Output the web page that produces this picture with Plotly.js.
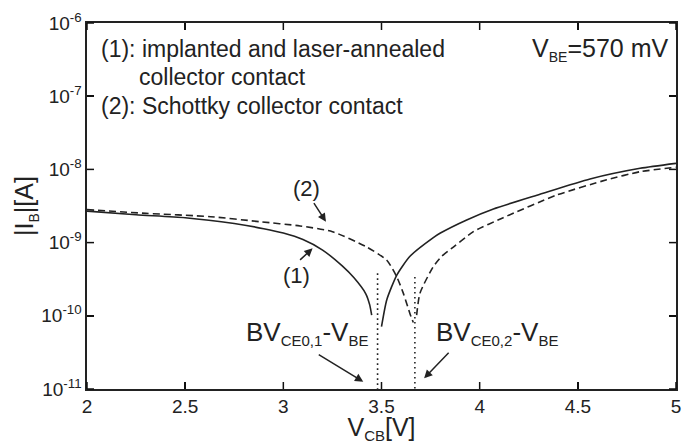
<!DOCTYPE html>
<html>
<head>
<meta charset="utf-8">
<script src="https://cdn.plot.ly/plotly-3.0.1.min.js"></script>
<style>html,body{margin:0;padding:0;background:#fff;}#chart{width:683px;height:444px;}</style>
</head>
<body>
<div id="chart"></div>
<script>
// Curve (1): implanted and laser-annealed collector contact (solid)
const v1Left = [2.0, 2.25, 2.5, 2.75, 2.9, 3.0, 3.1, 3.2, 3.3, 3.36, 3.42, 3.44, 3.45];
const i1Left = [2.69e-9, 2.40e-9, 2.19e-9, 1.82e-9, 1.55e-9, 1.35e-9, 1.10e-9, 7.9e-10, 4.8e-10, 3.3e-10, 2.0e-10, 1.41e-10, 1.02e-10];
const v1Right = [3.50, 3.527, 3.578, 3.645, 3.764, 3.80, 3.934, 4.07, 4.307, 4.562, 4.817, 5.0];
const i1Right = [7.1e-11, 1.66e-10, 3.6e-10, 6.5e-10, 1.17e-9, 1.35e-9, 2.04e-9, 2.88e-9, 4.57e-9, 7.4e-9, 1.035e-8, 1.21e-8];
// Curve (2): Schottky collector contact (dashed)
const v2Left = [2.0, 2.3, 2.63, 2.88, 3.085, 3.25, 3.425, 3.527, 3.578, 3.611, 3.645, 3.662];
const i2Left = [2.82e-9, 2.51e-9, 2.26e-9, 1.93e-9, 1.69e-9, 1.41e-9, 8.7e-10, 5.75e-10, 3.4e-10, 2.04e-10, 1.07e-10, 8.1e-11];
const v2Right = [3.679, 3.696, 3.764, 3.807, 3.866, 3.968, 4.12, 4.393, 4.647, 4.817, 5.0];
const i2Right = [1.02e-10, 2.04e-10, 4.7e-10, 6.5e-10, 8.7e-10, 1.41e-9, 2.19e-9, 4.47e-9, 7.2e-9, 9.3e-9, 1.07e-8];
// Breakdown markers (dotted verticals)
const bv1X = [3.48, 3.48];
const bv1Y = [3.8e-10, 1e-11];
const bv2X = [3.67, 3.67];
const bv2Y = [3.4e-10, 1e-11];
// Axis ticks
const xTicks = [2, 2.5, 3, 3.5, 4, 4.5, 5];
const xTickText = ['2', '2.5', '3', '3.5', '4', '4.5', '5'];
const yTicks = [1e-11, 1e-10, 1e-9, 1e-8, 1e-7, 1e-6];
const yTickText = ['10<sup>-11</sup>', '10<sup>-10</sup>', '10<sup>-9</sup>', '10<sup>-8</sup>', '10<sup>-7</sup>', '10<sup>-6</sup>'];
const xRange = [2, 5];
const yLogRange = [-11, -6];

const ink = '#222';
const FONT = 'Liberation Sans, Arial, sans-serif';
const sub = (t, s) => '<sub><span style="font-size:' + s + 'px">' + t + '</span></sub>';

const traces = [
  {x: v1Left.concat([null], v1Right), y: i1Left.concat([null], i1Right), mode: 'lines',
   line: {color: ink, width: 1.6, shape: 'spline', smoothing: 0.6}, connectgaps: false, hoverinfo: 'skip'},
  {x: v2Left.concat([null], v2Right), y: i2Left.concat([null], i2Right), mode: 'lines',
   line: {color: ink, width: 1.6, dash: '7px,4px', shape: 'spline', smoothing: 0.6}, connectgaps: false, hoverinfo: 'skip'},
  {x: bv1X, y: bv1Y, mode: 'lines', line: {color: ink, width: 1.6, dash: '1.6px,3.4px'}, hoverinfo: 'skip'},
  {x: bv2X, y: bv2Y, mode: 'lines', line: {color: ink, width: 1.6, dash: '1.6px,3.4px'}, hoverinfo: 'skip'}
];

const arrow = (x, y, ax, ay) => ({x: x, y: y, xref: 'x', yref: 'y', ax: ax, ay: ay, text: '',
  showarrow: true, arrowhead: 2, arrowsize: 1.1, arrowwidth: 1.5, arrowcolor: ink});
const label = (x, y, text, xanchor, size) => ({x: x, y: y, xref: 'x', yref: 'y', text: text, showarrow: false,
  xanchor: xanchor, yanchor: 'middle', font: {family: FONT, size: size, color: ink}});

const annotations = [
  label(2.06, -6.36, '(1): implanted and laser-annealed', 'left', 23),
  label(2.255, -6.735, 'collector contact', 'left', 23),
  label(2.06, -7.135, '(2): Schottky collector contact', 'left', 23),
  {x: 1.0, y: -6.36, xref: 'paper', yref: 'y', xshift: -6, text: 'V' + sub('BE', 14) + '=570 mV', showarrow: false,
   xanchor: 'right', yanchor: 'middle', font: {family: FONT, size: 25, color: ink}},
  label(3.119, -8.258, '(2)', 'center', 22),
  label(3.068, -9.443, '(1)', 'center', 22),
  label(2.8, -10.235, 'BV' + sub('CE0,1', 15) + '-V' + sub('BE', 15), 'left', 26),
  label(3.768, -10.235, 'BV' + sub('CE0,2', 15) + '-V' + sub('BE', 15), 'left', 26),
  arrow(3.217, -8.714, -13, -20),
  arrow(3.149, -9.078, -14, 13),
  arrow(3.407, -10.90, -46, -28),
  arrow(3.717, -10.854, 26, -27)
];

// Inward tick marks on all four sides (MATLAB style), placed from the tick arrays in paper fractions
const TL = 7;
const plotW = 683 - 87 - 7, plotH = 444 - 23 - 55;
const tickLine = {color: '#111', width: 1.5};
const shapes = [];
xTicks.forEach(v => {
  const fx = (v - xRange[0]) / (xRange[1] - xRange[0]);
  shapes.push({type: 'line', layer: 'above', xref: 'paper', yref: 'paper', x0: fx, x1: fx, y0: 0, y1: TL / plotH, line: tickLine});
  shapes.push({type: 'line', layer: 'above', xref: 'paper', yref: 'paper', x0: fx, x1: fx, y0: 1, y1: 1 - TL / plotH, line: tickLine});
});
yTicks.forEach(v => {
  const fy = (Math.log10(v) - yLogRange[0]) / (yLogRange[1] - yLogRange[0]);
  shapes.push({type: 'line', layer: 'above', xref: 'paper', yref: 'paper', x0: 0, x1: TL / plotW, y0: fy, y1: fy, line: tickLine});
  shapes.push({type: 'line', layer: 'above', xref: 'paper', yref: 'paper', x0: 1, x1: 1 - TL / plotW, y0: fy, y1: fy, line: tickLine});
});

const layout = {
  width: 683, height: 444,
  margin: {l: 87, r: 7, t: 23, b: 55, pad: 0},
  paper_bgcolor: '#fff', plot_bgcolor: '#fff',
  showlegend: false,
  font: {family: FONT, color: ink, size: 19},
  xaxis: {
    range: xRange, tickvals: xTicks, ticktext: xTickText,
    ticks: 'inside', ticklen: 7, tickwidth: 1.5, tickcolor: '#111',
    showline: true, linecolor: ink, linewidth: 1.6, mirror: 'allticks',
    showgrid: false, zeroline: false,
    tickfont: {family: FONT, size: 19, color: ink},
    title: {text: 'V' + sub('CB', 15) + '[V]', font: {family: FONT, size: 25, color: ink}, standoff: 3}
  },
  yaxis: {
    type: 'log', range: yLogRange, tickvals: yTicks, ticktext: yTickText,
    ticks: 'inside', ticklen: 7, tickwidth: 1.5, tickcolor: '#111',
    showline: true, linecolor: ink, linewidth: 1.6, mirror: 'allticks',
    showgrid: false, zeroline: false,
    tickfont: {family: FONT, size: 19, color: ink},
    title: {text: '|I' + sub('B', 14) + '|[A]', font: {family: FONT, size: 25, color: ink}, standoff: 0}
  },
  shapes: shapes,
  annotations: annotations
};

Plotly.newPlot('chart', traces, layout, {staticPlot: true, displayModeBar: false});
</script>
</body>
</html>
